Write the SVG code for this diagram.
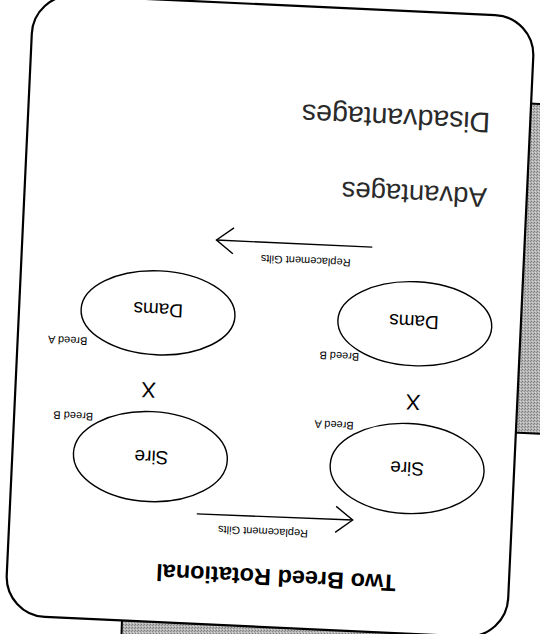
<svg xmlns="http://www.w3.org/2000/svg" width="540" height="634" viewBox="0 0 540 634">
  <defs>
    <pattern id="stip" width="3" height="3" patternUnits="userSpaceOnUse">
      <rect width="3" height="3" fill="#b4b4b4"/>
      <rect x="0" y="0" width="1" height="1" fill="#7a7a7a"/>
      <rect x="2" y="1" width="1" height="1" fill="#8a8a8a"/>
      <rect x="1" y="2" width="1" height="1" fill="#d8d8d8"/>
    </pattern>
    <marker id="vhead" viewBox="0 0 20 28" refX="18" refY="14" markerWidth="20" markerHeight="28" markerUnits="userSpaceOnUse" orient="auto">
      <path d="M1,1 L18,14 L1,27" fill="none" stroke="#000" stroke-width="1.4"/>
    </marker>
    <style>
      .card { fill: #fff; stroke: #000; stroke-width: 2.2; }
      .node { fill: none; stroke: #000; stroke-width: 1.4; }
      .lbl { font-family: "Liberation Sans", Arial, sans-serif; fill: #000; }
      .big { font-size: 19px; text-anchor: middle; }
      .small { font-size: 11px; text-anchor: middle; }
      .x { font-size: 22px; text-anchor: middle; }
      .head { font-size: 28px; fill: #2a2a2a; }
      .title { font-size: 23.5px; font-weight: bold; text-anchor: middle; }
      .conn { fill: none; stroke: #000; stroke-width: 1.4; }
      .edge { stroke: #000; stroke-width: 2; fill: none; }
    </style>
  </defs>
  <rect width="540" height="634" fill="#fff"/>
  <g id="backdrop">
    <polygon points="490,101.5 540,104 540,434 490,431.5" fill="url(#stip)"/>
    <line class="edge" x1="505" y1="102.3" x2="540" y2="104"/>
    <line class="edge" x1="505" y1="432" x2="540" y2="433.7"/>
    <polygon points="122,619 430,633 430,640 122,640" fill="url(#stip)"/>
    <line class="edge" x1="122" y1="619" x2="121.5" y2="634"/>
  </g>
  <g transform="translate(270,316) rotate(182.65)">
    <rect id="card" class="card" x="-251" y="-311" width="502" height="622" rx="40" ry="40"/>
    <g id="title">
      <text class="lbl title" x="-18" y="-253">Two Breed Rotational</text>
    </g>
    <g id="connectors">
      <line class="conn" x1="64" y1="-201" x2="-92" y2="-200" marker-end="url(#vhead)"/>
      <text class="lbl small" x="-3" y="-212">Replacement Gilts</text>
      <line class="conn" x1="-99" y1="73.5" x2="57" y2="73.4" marker-end="url(#vhead)"/>
      <text class="lbl small" x="-33" y="60.6">Replacement Gilts</text>
    </g>
    <g id="sire-a">
      <ellipse class="node" cx="-144" cy="-146" rx="77" ry="45"/>
      <text class="lbl big" x="-144" y="-139.5">Sire</text>
      <text class="lbl small" x="-69" y="-102">Breed A</text>
    </g>
    <g id="cross-1">
      <text class="lbl x" x="-147" y="-72">X</text>
    </g>
    <g id="dams-b">
      <ellipse class="node" cx="-145" cy="-1" rx="77" ry="42"/>
      <text class="lbl big" x="-144" y="7.5">Dams</text>
      <text class="lbl small" x="-71" y="-33">Breed B</text>
    </g>
    <g id="sire-b">
      <ellipse class="node" cx="113" cy="-146" rx="77" ry="45"/>
      <text class="lbl big" x="112" y="-140">Sire</text>
      <text class="lbl small" x="192" y="-105">Breed B</text>
    </g>
    <g id="cross-2">
      <text class="lbl x" x="118" y="-72">X</text>
    </g>
    <g id="dams-a">
      <ellipse class="node" cx="112" cy="-2" rx="77" ry="42"/>
      <text class="lbl big" x="112" y="7.5">Dams</text>
      <text class="lbl small" x="201" y="-30">Breed A</text>
    </g>
    <g id="advantages">
      <text class="lbl head" x="-211" y="137.6" style="font-size:27.5px">Advantages</text>
    </g>
    <g id="disadvantages">
      <text class="lbl head" x="-211" y="213" style="font-size:28.5px">Disadvantages</text>
    </g>
  </g>
</svg>
